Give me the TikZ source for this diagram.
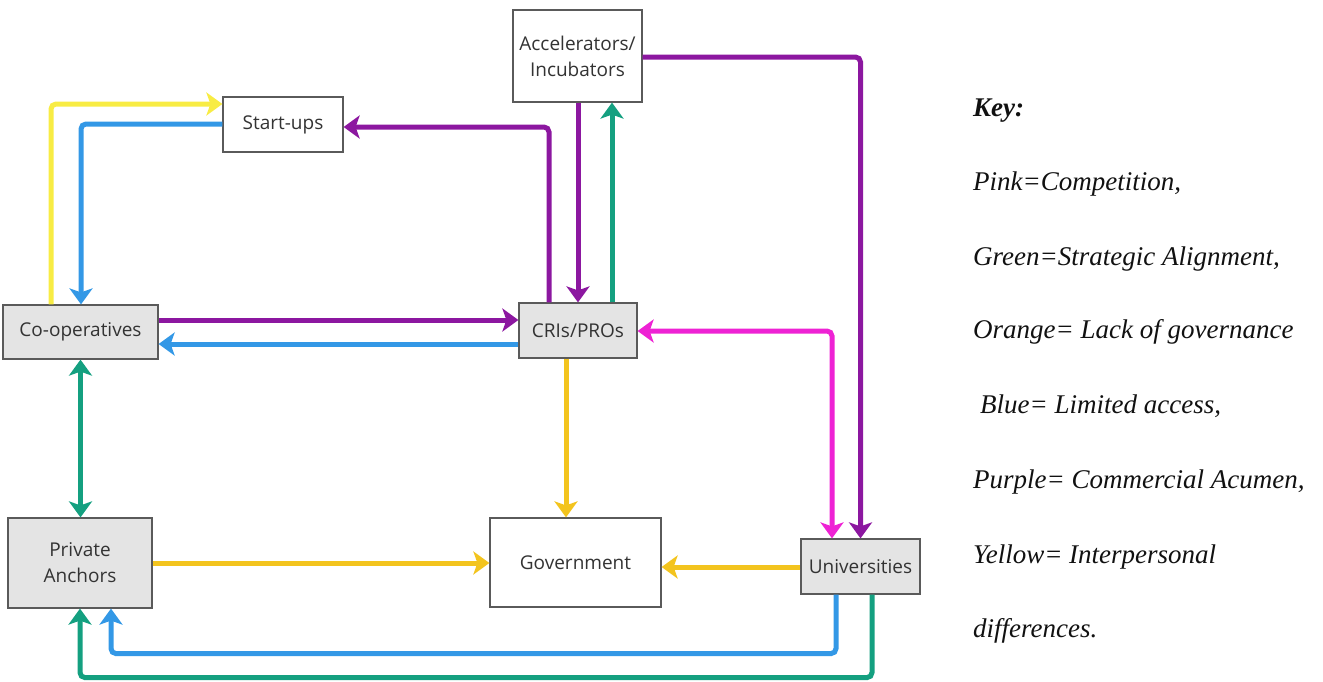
\documentclass[tikz,border=0pt]{standalone}
\usepackage{fontspec}
\setsansfont{Open Sans}
\newfontfamily\keyfont{Liberation Serif}
\usetikzlibrary{arrows.meta,calc}

\definecolor{boxtext}{HTML}{333333}
\definecolor{boxline}{HTML}{5A5A5A}
\definecolor{boxgray}{HTML}{E4E4E4}
\definecolor{cyellow}{HTML}{F8EC44}
\definecolor{cgold}{HTML}{F3C41E}
\definecolor{cblue}{HTML}{3398E6}
\definecolor{cpurple}{HTML}{8C17A0}
\definecolor{cgreen}{HTML}{14A080}
\definecolor{cpink}{HTML}{EE22D4}
\definecolor{keyink}{HTML}{111111}

\tikzset{
  actor/.style={draw=boxline, line width=1.2pt, fill=white, inner sep=0pt,
    align=center, text=boxtext,
    font=\sffamily\fontsize{19}{26}\selectfont},
  grayactor/.style={actor, fill=boxgray},
  link/.style={line width=5pt, rounded corners=5pt,
    -{Stealth[length=16pt,width=23pt,inset=4pt]}},
  twoway/.style={line width=5pt, rounded corners=5pt,
    {Stealth[length=16pt,width=23pt,inset=4pt]}-{Stealth[length=16pt,width=23pt,inset=4pt]}},
  keytext/.style={anchor=base west, inner sep=0pt, text=keyink,
    font=\keyfont\itshape\fontsize{27}{30}\selectfont}
}

\begin{document}
\begin{tikzpicture}[x=1pt, y=-1pt]
\useasboundingbox (0,0) rectangle (1323,681);

% actors
\node[actor, minimum width=129pt, minimum height=92pt] (acc) at (577.5,56) {Accelerators/\\Incubators};
\node[actor, minimum width=120pt, minimum height=55pt] (start) at (283,124.5) {Start-ups};
\node[grayactor, minimum width=155pt, minimum height=54pt] (coop) at (80.5,332) {Co-operatives};
\node[grayactor, minimum width=118pt, minimum height=55pt] (cri) at (578,330.5) {CRIs/PROs};
\node[grayactor, minimum width=144pt, minimum height=90pt] (pa) at (80,563) {Private\\Anchors};
\node[actor, minimum width=171pt, minimum height=89pt] (gov) at (575.5,562.5) {Government};
\node[grayactor, minimum width=119pt, minimum height=55pt] (univ) at (860.5,566.5) {Universities};

% attachment points on the box sides
\coordinate (coopY) at ($(coop.north)+(-29.5,0)$);
\coordinate (startY) at ($(start.west)+(0,-20.5)$);
\coordinate (startB) at ($(start.west)+(0,-0.5)$);
\coordinate (coopB) at ($(coop.north)+(0.5,0)$);
\coordinate (criP) at ($(cri.north)+(-29,0)$);
\coordinate (startP) at ($(start.east)+(0,2.5)$);
\coordinate (criG) at ($(cri.north)+(34,0)$);
\coordinate (accE) at ($(acc.east)+(0,1)$);
\coordinate (univPk) at ($(univ.north)+(-28.5,0)$);
\coordinate (criE) at ($(cri.east)+(0,0.5)$);
\coordinate (coopP) at ($(coop.east)+(0,-12)$);
\coordinate (criB) at ($(cri.west)+(0,13.5)$);
\coordinate (criS) at ($(cri.south)+(-12,0)$);
\coordinate (univW) at ($(univ.west)+(0,0.5)$);
\coordinate (univB) at ($(univ.south)+(-24.5,0)$);
\coordinate (paB) at ($(pa.south)+(31,0)$);
\coordinate (univG) at ($(univ.south)+(11.5,0)$);

% yellow: interpersonal differences
\draw[link, cyellow] (coopY) |- (startY);
% blue: limited access
\draw[link, cblue] (startB) -| (coopB);
\draw[link, cblue] (criB) -- (criB -| coop.east);
\draw[link, cblue] (univB) -- ++(0,59) -| (paB);
% purple: commercial acumen
\draw[link, cpurple] (criP) |- (startP);
\draw[link, cpurple] (acc.south -| cri.north) -- (cri.north);
\draw[link, cpurple] (accE) -| (univ.north);
\draw[link, cpurple] (coopP) -- (coopP -| cri.west);
% green: strategic alignment
\draw[link, cgreen] (criG) -- (criG |- acc.south);
\draw[twoway, cgreen] (coop.south) -- (coop.south |- pa.north);
\draw[link, cgreen] (univG) -- ++(0,83) -| (pa.south);
% pink: competition
\draw[twoway, cpink] (univPk) |- (criE);
% orange: lack of governance
\draw[link, cgold] (criS) -- (criS |- gov.north);
\draw[link, cgold] (pa.east) -- (pa.east -| gov.west);
\draw[link, cgold] (univW) -- (univW -| gov.east);

% key
\node[keytext, font=\keyfont\bfseries\itshape\fontsize{27}{30}\selectfont] (k0) at (973,116) {Key:};
\node[keytext] (k1) at (973,190) {Pink=Competition,};
\node[keytext] (k2) at (973,265) {Green=Strategic Alignment,};
\node[keytext] (k3) at (973,338) {Orange= Lack of governance};
\node[keytext] (k4) at (980,413) {Blue= Limited access,};
\node[keytext] (k5) at (973,488) {Purple= Commercial Acumen,};
\node[keytext] (k6) at (973,563) {Yellow= Interpersonal};
\node[keytext] (k7) at (973,637) {differences.};
\end{tikzpicture}
\end{document}
